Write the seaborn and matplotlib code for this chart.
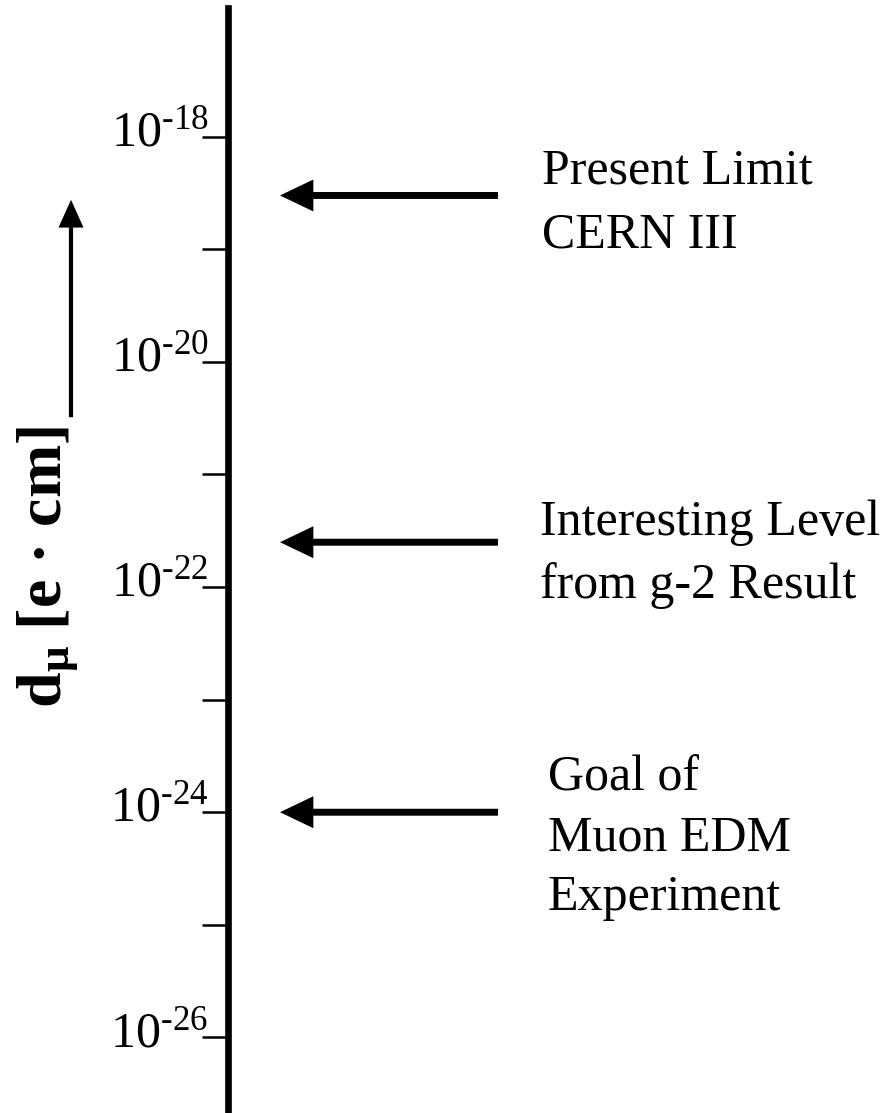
import numpy as np
import matplotlib
matplotlib.use("Agg")
import matplotlib.pyplot as plt
import matplotlib.transforms as mtransforms
from matplotlib.patches import FancyArrowPatch
from matplotlib.ticker import FixedLocator, FixedFormatter, NullFormatter
import seaborn as sns

# ---- data ----
major_ticks = [1e-18, 1e-20, 1e-22, 1e-24, 1e-26]
major_labels = ["18", "20", "22", "24", "26"]
minor_ticks = [1e-19, 1e-21, 1e-23, 1e-25]
levels = [3e-19, 2.5e-22, 1e-24]
level_texts = ["Present Limit\nCERN III",
               "Interesting Level\nfrom g-2 Result",
               "Goal of\nMuon EDM\nExperiment"]
ylabel_text = r"$\mathbf{d}_{\mathbf{\mu}}$ [e · cm]"

sns.set_theme(style="white")
plt.rcParams["font.family"] = ["Liberation Serif", "DejaVu Serif"]
plt.rcParams["mathtext.fontset"] = "custom"
plt.rcParams["mathtext.rm"] = "Liberation Serif"
plt.rcParams["mathtext.it"] = "Liberation Serif:italic"
plt.rcParams["mathtext.bf"] = "Liberation Serif:bold"

W, H = 894, 1113
fig = plt.figure(figsize=(W / 100, H / 100), dpi=100)
ax_left = 228 / W
ax_top = 1 - 8 / H
ax = fig.add_axes([ax_left, 0.0, 1 - ax_left, ax_top])

ax.set_yscale("log")
ax.set_ylim(10 ** -26.671, 10 ** -16.858)
ax.set_xlim(0, 1)

sns.despine(ax=ax, top=True, right=True, bottom=True, left=False)
ax.spines["left"].set_linewidth(4.8)
ax.spines["left"].set_color("black")
ax.set_xticks([])

HY = "\u2010"
ax.yaxis.set_major_locator(FixedLocator(major_ticks))
ax.yaxis.set_major_formatter(FixedFormatter(
    ["$\\mathregular{10^{" + HY + s + "}}$" for s in major_labels]))
ax.yaxis.set_minor_locator(FixedLocator(minor_ticks))
ax.yaxis.set_minor_formatter(NullFormatter())
ax.tick_params(axis="y", which="both", direction="out", length=18.5,
               width=1.8, color="black", left=True)
ax.tick_params(axis="y", which="major", labelsize=36, pad=-4.3,
               labelcolor="black")

offset = mtransforms.ScaledTranslation(0, 9 / 100, fig.dpi_scale_trans)
for lab in ax.get_yticklabels():
    lab.set_transform(lab.get_transform() + offset)

# arrows pointing at the levels
tip_x = (280 - 228) / (W - 228)
tail_x = (498 - 228) / (W - 228)
for val in levels:
    ax.annotate("", xy=(tip_x, val), xycoords=("axes fraction", "data"),
                xytext=(tail_x, val), textcoords=("axes fraction", "data"),
                arrowprops=dict(arrowstyle="simple,head_length=2.4,head_width=2.3,tail_width=0.5",
                                fc="black", ec="none", lw=0,
                                shrinkA=0, shrinkB=0, mutation_scale=10))

# level descriptions (last-line baseline positions in pixels)
text_px = [(542, 248), (540, 598), (548, 910)]
text_ls = [1.5, 1.44, 1.38]
for txt, (px, py), ls in zip(level_texts, text_px, text_ls):
    fig.text(px / W, 1 - py / H, txt, ha="left", va="baseline",
             fontsize=36, color="black", linespacing=ls)

# y label
ax.set_ylabel(ylabel_text, fontsize=46, fontweight="bold", color="black")
ax.yaxis.label.set_va("center")
ax.yaxis.set_label_coords((48 - 228) / (W - 228), (H - 567) / (H * ax_top))

# upward arrow next to the label
fig.patches.append(FancyArrowPatch(
    (71 / W, 1 - 420 / H), (71 / W, 1 - 197 / H), transform=fig.transFigure,
    arrowstyle="simple,head_length=2.0,head_width=1.8,tail_width=0.3",
    mutation_scale=10, fc="black", ec="none", lw=0))

fig.savefig("out.png", dpi=100, facecolor="white")
